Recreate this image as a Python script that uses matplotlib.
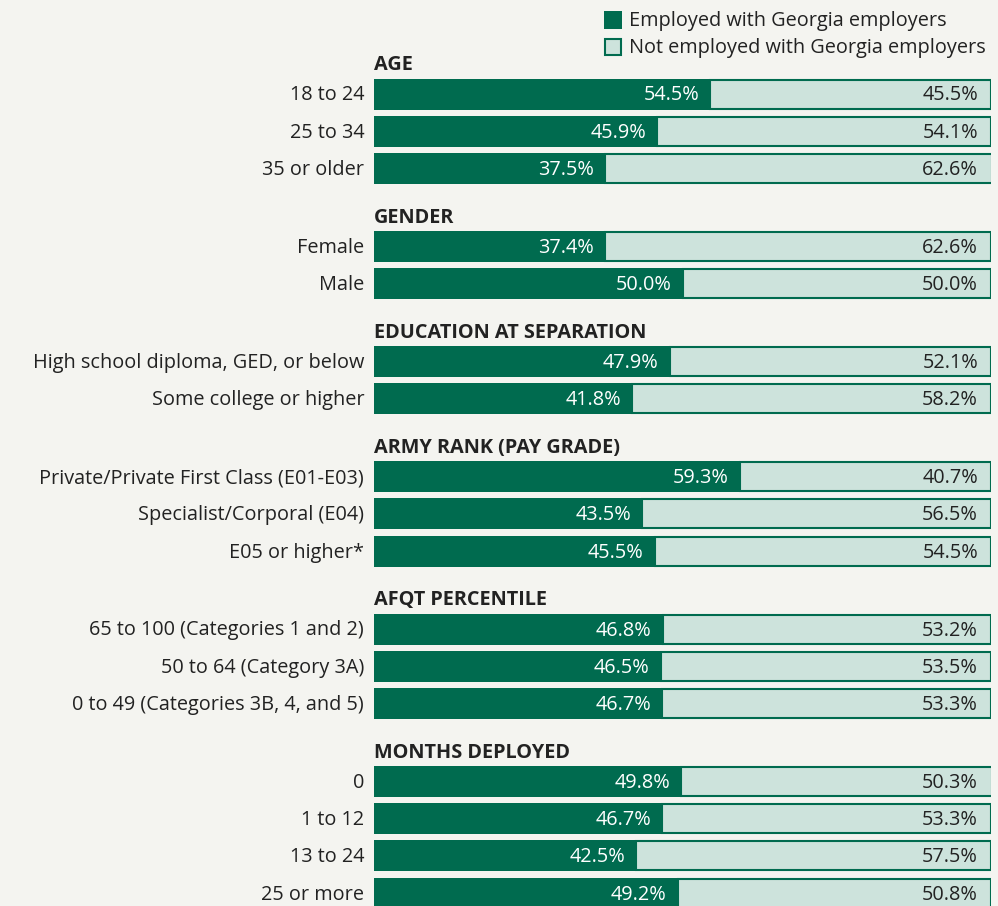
import matplotlib.pyplot as plt
from matplotlib.patches import Rectangle

DARK = "#006b4f"
LIGHT = "#cde3dc"
BG = "#f4f4f0"
TEXT = "#222222"

groups = ["AGE", "GENDER", "EDUCATION AT SEPARATION", "ARMY RANK (PAY GRADE)",
          "AFQT PERCENTILE", "MONTHS DEPLOYED"]
categories = [
    ["18 to 24", "25 to 34", "35 or older"],
    ["Female", "Male"],
    ["High school diploma, GED, or below", "Some college or higher"],
    ["Private/Private First Class (E01-E03)", "Specialist/Corporal (E04)", "E05 or higher*"],
    ["65 to 100 (Categories 1 and 2)", "50 to 64 (Category 3A)", "0 to 49 (Categories 3B, 4, and 5)"],
    ["0", "1 to 12", "13 to 24", "25 or more"],
]
employed = [
    [54.5, 45.9, 37.5],
    [37.4, 50.0],
    [47.9, 41.8],
    [59.3, 43.5, 45.5],
    [46.8, 46.5, 46.7],
    [49.8, 46.7, 42.5, 49.2],
]
not_employed = [
    [45.5, 54.1, 62.6],
    [62.6, 50.0],
    [52.1, 58.2],
    [40.7, 56.5, 54.5],
    [53.2, 53.5, 53.3],
    [50.3, 53.3, 57.5, 50.8],
]

W, H = 998, 906
fig = plt.figure(figsize=(W / 100, H / 100), dpi=100)
fig.patch.set_facecolor(BG)
plt.rcParams["font.family"] = ["Open Sans", "DejaVu Sans"]

# axes: x 0..100 maps onto the bar area, y in pixel units from the top
ax = fig.add_axes([374 / W, 0, 617 / W, 1])
ax.set_xlim(0, 100)
ax.set_ylim(H, 0)
ax.axis("off")
ax.set_facecolor(BG)

FS = 14.3
row_step = 37.3
group_gap = 77.8
bar_h = 31
dy = 1.5  # nudge text down a touch to sit centred on the bars
y = 94
for g, name in enumerate(groups):
    ax.text(0, y - 30 + dy, name, ha="left", va="center", fontsize=FS,
            fontweight="bold", color=TEXT, clip_on=False)
    for i, cat in enumerate(categories[g]):
        e = employed[g][i]
        n = not_employed[g][i]
        ax.barh(y, e, height=bar_h, left=0, color=DARK, linewidth=0)
        ax.barh(y, n, height=bar_h - 2, left=e, color=LIGHT,
                edgecolor=DARK, linewidth=1.5)
        ax.text(-1.6, y + dy, cat, ha="right", va="center", fontsize=FS,
                color=TEXT, clip_on=False)
        ax.text(e - 1.8, y + dy, f"{e:.1f}%", ha="right", va="center",
                fontsize=FS, color="white")
        ax.text(97.9, y + dy, f"{n:.1f}%", ha="right", va="center",
                fontsize=FS, color=TEXT)
        if i < len(categories[g]) - 1:
            y += row_step
    y += group_gap

# legend
fig.patches.append(Rectangle((604 / W, 1 - 29 / H), 18 / W, 18 / H,
                             transform=fig.transFigure, facecolor=DARK,
                             edgecolor="none"))
fig.patches.append(Rectangle((605 / W, 1 - 55 / H), 16 / W, 16 / H,
                             transform=fig.transFigure, facecolor=LIGHT,
                             edgecolor=DARK, linewidth=1.5))
fig.text(629 / W, 1 - 21 / H, "Employed with Georgia employers", ha="left",
         va="center", fontsize=FS, color=TEXT)
fig.text(629 / W, 1 - 48 / H, "Not employed with Georgia employers", ha="left",
         va="center", fontsize=FS, color=TEXT)

fig.savefig("out.png", dpi=100, facecolor=BG)
